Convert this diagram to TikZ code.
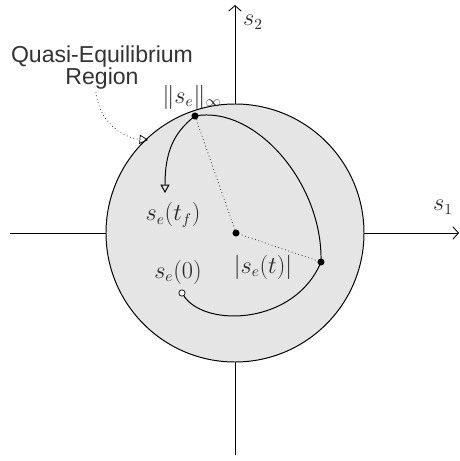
\documentclass[tikz,border=0pt]{standalone}
\usepackage{fontspec}
\newfontfamily\regionfont{Liberation Sans}
\usetikzlibrary{arrows.meta}
\begin{document}
\begin{tikzpicture}[
  x=0.025cm,y=0.025cm,
  dot/.style={circle,fill=black,inner sep=0pt,minimum size=5pt},
  hollow/.style={circle,draw=black,fill=white,inner sep=0pt,minimum size=4.5pt,line width=0.5pt},
  lab/.style={font=\fontsize{16}{19}\selectfont,text=black!85},
  axis/.style={black,line width=0.6pt,-{Straight Barb[length=4pt,width=9pt]}},
  traj/.style={black,line width=0.7pt},
  dist/.style={black,dotted,line width=0.5pt},
  openarrow/.style={-{Triangle[open,length=6pt,width=6.5pt]}}
]
  \useasboundingbox (-235,-228) rectangle (225,233);

  \coordinate (xl) at (-225,0);
  \coordinate (xr) at (224,0);
  \coordinate (yb) at (0,-222);
  \coordinate (yt) at (0,228);
  \draw[axis] (xl)--(xr);
  \draw[axis] (yb)--(yt);

  \filldraw[fill=black!10,line width=0.7pt] (0,0) circle [radius=129];

  \node[lab] (s1) at (208,26) {$s_1$};
  \node[lab] (s2) at (18,211) {$s_2$};

  \node[dot] (c) at (1,0) {};
  \node[dot] (p) at (-40,117) {};
  \node[dot] (r) at (86,-29) {};
  \node[hollow] (s) at (-53,-60) {};
  \coordinate (tf) at (-70,40);

  \node[lab] (norm) at (-43,136) {$\|s_e\|_\infty$};
  \node[lab] (stf) at (-62,18) {$s_e(t_f)$};
  \node[lab] (s0) at (-57,-39) {$s_e(0)$};
  \node[lab] (st) at (28,-34) {$|s_e(t)|$};

  \node[font=\regionfont\fontsize{16.4}{15.6}\selectfont,text=black!80,align=center] (reg) at (-133,165) {Quasi-Equilibrium\\Region};
  \coordinate (regs) at (-139,141);
  \coordinate (rege) at (-87,93);
  \draw[dotted,line width=0.5pt,openarrow] (regs) to[out=-85,in=175] (rege);

  \draw[dist] (p.center)--(c.center)--(r.center);
  \draw[traj] (s) .. controls (-30,-95) and (60,-92) .. (r.center);
  \draw[traj] (r.center) .. controls (88,50) and (20,128) .. (p.center);
  \draw[traj,openarrow] (p.center) .. controls (-62,100) and (-70,80) .. (tf);
\end{tikzpicture}
\end{document}
